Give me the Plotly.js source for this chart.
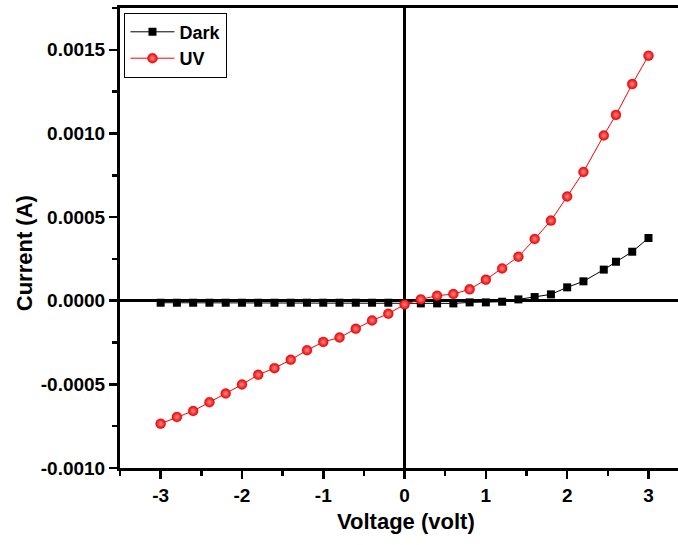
<!DOCTYPE html>
<html>
<head>
<meta charset="utf-8">
<script src="https://cdn.plot.ly/plotly-3.0.1.min.js"></script>
<style>html,body{margin:0;padding:0;background:#fff;overflow:hidden}#chart{width:678px;height:545px}</style>
</head>
<body>
<div id="chart"></div>
<script>
// Voltage values (volt)
const voltage = [-3.0,-2.8,-2.6,-2.4,-2.2,-2.0,-1.8,-1.6,-1.4,-1.2,-1.0,-0.8,-0.6,-0.4,-0.2,0.0,
                 0.2,0.4,0.6,0.8,1.0,1.2,1.4,1.6,1.8,2.0,2.2,2.45,2.6,2.8,3.0];
// Dark current (A)
const darkCurrent = [-0.000012,-0.000012,-0.000012,-0.000012,-0.000012,-0.000012,-0.000012,-0.000012,
                     -0.000012,-0.000012,-0.000012,-0.000012,-0.000012,-0.000012,-0.000012,-0.000016,
                     -0.000016,-0.000016,-0.000016,-0.00001,-0.00001,-0.000006,0.000008,0.000022,
                     0.000038,0.00008,0.000116,0.000186,0.000233,0.000293,0.000375];
// UV current (A)
const uvCurrent = [-0.000735,-0.000695,-0.000659,-0.000607,-0.000555,-0.000501,-0.000443,-0.000403,
                   -0.000353,-0.000296,-0.000246,-0.00022,-0.000168,-0.000118,-0.000078,-0.000022,
                   0.000008,0.00003,0.00004,0.000068,0.000126,0.000193,0.000263,0.000369,
                   0.000479,0.000623,0.00077,0.000988,0.001111,0.001295,0.001465];

const xTickVals = [-3,-2,-1,0,1,2,3];
const xTickText = ['-3','-2','-1','0','1','2','3'];
const yTickVals = [-0.001,-0.0005,0,0.0005,0.001,0.0015];
const yTickText = ['-0.0010','-0.0005','0.0000','0.0005','0.0010','0.0015'];
const xTitle = 'Voltage (volt)';
const yTitle = 'Current (A)';

const FONT = 'Liberation Sans, Arial, sans-serif';
const TITLE_FONT = {family: FONT, size: 22, color: '#000', weight: 'bold'};

const traces = [
  {
    x: voltage, y: darkCurrent, name: 'Dark', type: 'scatter', mode: 'lines+markers',
    line: {color: '#000000', width: 1},
    marker: {symbol: 'square', size: 8, color: '#000000'}
  },
  {
    x: voltage, y: uvCurrent, name: 'UV', type: 'scatter', mode: 'lines+markers',
    line: {color: '#ff0000', width: 1},
    marker: {symbol: 'circle', size: 10, color: '#ee0000',
             gradient: {type: 'radial', color: '#ff8a8a'},
             line: {color: '#c00000', width: 0.3}}
  }
];

const layout = {
  width: 678, height: 545,
  margin: {l: 120, r: 0, t: 8, b: 77},
  paper_bgcolor: '#ffffff', plot_bgcolor: '#ffffff',
  showlegend: true,
  legend: {
    x: 0.008, y: 0.99, xanchor: 'left', yanchor: 'top',
    bordercolor: '#000000', borderwidth: 1, bgcolor: '#ffffff',
    font: {family: FONT, size: 18, color: '#000', weight: 'bold'},
    tracegroupgap: 0, itemwidth: 44
  },
  xaxis: {
    range: [-3.5, 3.363],
    tickmode: 'array', tickvals: xTickVals, ticktext: xTickText,
    ticks: 'outside', ticklen: 8, tickwidth: 2.5, tickcolor: '#000',
    minor: {dtick: 0.5, tick0: 0, ticks: 'outside', ticklen: 5, tickwidth: 2.5, tickcolor: '#000'},
    showline: true, linecolor: '#000', linewidth: 3, mirror: true,
    showgrid: false,
    zeroline: true, zerolinecolor: '#000', zerolinewidth: 3,
    tickfont: {family: FONT, size: 19, color: '#000', weight: 'bold'}
  },
  yaxis: {
    range: [-0.001, 0.00175],
    tickmode: 'array', tickvals: yTickVals, ticktext: yTickText,
    ticks: 'outside', ticklen: 8, tickwidth: 2.5, tickcolor: '#000',
    minor: {dtick: 0.00025, tick0: 0, ticks: 'outside', ticklen: 5, tickwidth: 2.5, tickcolor: '#000'},
    showline: true, linecolor: '#000', linewidth: 3,
    showgrid: false,
    zeroline: true, zerolinecolor: '#000', zerolinewidth: 3,
    tickfont: {family: FONT, size: 19, color: '#000', weight: 'bold'}
  },
  annotations: [
    {text: xTitle, xref: 'paper', yref: 'paper', x: 0.5125, y: -0.117,
     xanchor: 'center', yanchor: 'middle', showarrow: false, font: TITLE_FONT},
    {text: yTitle, xref: 'paper', yref: 'paper', x: -0.172, y: 0.467, textangle: -90,
     xanchor: 'center', yanchor: 'middle', showarrow: false, font: TITLE_FONT}
  ]
};

Plotly.newPlot('chart', traces, layout, {displayModeBar: false, staticPlot: true});
</script>
</body>
</html>
